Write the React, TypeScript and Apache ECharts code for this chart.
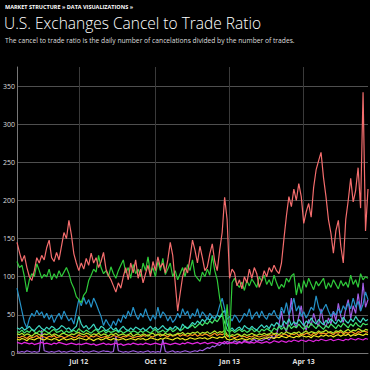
import React, { useEffect, useRef } from "react";
import * as echarts from "echarts";

const breadcrumb = "MARKET STRUCTURE » DATA VISUALIZATIONS »";
const titleText = "U.S. Exchanges Cancel to Trade Ratio";
const subtitleText = "The cancel to trade ratio is the daily number of cancelations divided by the number of trades.";
const monthNames = ["Jan", "Feb", "Mar", "Apr", "May", "Jun", "Jul", "Aug", "Sep", "Oct", "Nov", "Dec"];

const startDate = Date.UTC(2012, 3, 18);
const stepDays = 3;
const pointCount = 143;
const categories: string[] = Array.from({ length: pointCount }, (_, i) =>
  new Date(startDate + i * stepDays * 86400000).toISOString().slice(0, 10)
);

const redValues = [
  145, 132, 120, 128, 112, 100, 95, 108, 125, 118, 128, 122, 138, 148, 125, 120, 132, 122, 140, 158, 150, 174, 155, 130, 118,
  108, 118, 110, 124, 115, 131, 118, 125, 112, 120, 132, 110, 102, 96, 88, 80, 92, 85, 100, 112, 96, 118, 105, 122, 98,
  110, 92, 104, 115, 100, 120, 108, 126, 112, 118, 105, 122, 145, 128, 92, 55, 78, 100, 112, 105, 125, 148, 135, 118, 140,
  125, 108, 113, 130, 143, 120, 108, 135, 158, 204, 175, 98, 110, 105, 88, 96, 84, 100, 92, 110, 98, 112, 104, 86, 95,
  108, 100, 112, 106, 115, 108, 104, 118, 150, 180, 205, 192, 215, 200, 222, 205, 170, 185, 196, 178, 217, 240, 252, 263, 230,
  205, 175, 157, 131, 160, 174, 140, 118, 175, 200, 229, 198, 213, 243, 190, 342, 160, 215,
];

const greenValues = [
  120, 112, 115, 100, 80, 96, 104, 100, 117, 108, 98, 103, 100, 110, 96, 104, 98, 108, 100, 106, 112, 104, 92, 85, 74,
  70, 66, 76, 80, 95, 102, 110, 106, 128, 112, 104, 108, 100, 113, 104, 98, 108, 115, 122, 105, 112, 98, 116, 104, 110,
  100, 118, 108, 126, 104, 112, 100, 120, 108, 124, 103, 110, 118, 100, 108, 96, 104, 112, 100, 116, 108, 122, 102, 98, 94,
  106, 100, 110, 102, 128, 108, 96, 72, 56, 22, 64, 20, 92, 98, 90, 86, 93, 82, 95, 88, 97, 92, 86, 100, 94,
  102, 90, 96, 88, 102, 92, 84, 90, 86, 98, 93, 101, 104, 76, 92, 78, 95, 86, 98, 90, 83, 94, 88, 93, 98,
  84, 92, 86, 96, 90, 84, 95, 88, 93, 86, 102, 90, 96, 86, 104, 96, 100, 98,
];

const blueValues = [
  85, 70, 55, 40, 33, 45, 52, 48, 56, 50, 54, 46, 52, 44, 50, 40, 47, 52, 44, 55, 48, 42, 46, 38, 55,
  70, 62, 73, 64, 70, 60, 72, 65, 56, 48, 36, 44, 38, 34, 42, 36, 45, 40, 50, 45, 55, 48, 60, 50, 44,
  52, 47, 58, 48, 42, 50, 44, 60, 46, 54, 50, 42, 48, 40, 44, 52, 46, 58, 50, 55, 45, 52, 48, 58, 46,
  54, 50, 44, 52, 48, 45, 50, 62, 72, 58, 44, 48, 42, 50, 46, 40, 45, 52, 48, 58, 44, 50, 54, 46, 55,
  48, 44, 52, 50, 56, 48, 44, 60, 52, 66, 50, 58, 72, 55, 62, 48, 54, 46, 52, 60, 56, 75, 60, 52, 58,
  64, 55, 48, 54, 50, 58, 52, 62, 56, 66, 58, 72, 60, 68, 55, 64, 80, 70,
];

const cyanValues = [
  33, 31, 34, 30, 32, 35, 31, 29, 33, 36, 32, 30, 34, 31, 35, 33, 30, 32, 36, 34, 31, 33, 29, 32, 35,
  48, 38, 33, 36, 31, 34, 38, 32, 30, 35, 33, 29, 31, 34, 30, 33, 28, 32, 35, 31, 29, 33, 30, 34, 32,
  30, 33, 29, 32, 35, 31, 34, 30, 33, 36, 32, 30, 34, 31, 35, 33, 30, 38, 34, 32, 36, 40, 37, 42, 39,
  44, 41, 46, 43, 48, 45, 50, 47, 52, 56, 38, 30, 33, 29, 32, 34, 30, 36, 33, 31, 35, 32, 30, 34, 37,
  33, 36, 32, 38, 35, 40, 37, 34, 42, 38, 45, 36, 41, 38, 44, 40, 36, 42, 39, 46, 41, 38, 44, 40, 37,
  43, 39, 45, 41, 38, 44, 40, 47, 42, 39, 45, 41, 48, 43, 40, 46, 42, 44,
];

const lightGreenValues = [
  28, 27, 30, 26, 29, 27, 31, 28, 26, 29, 27, 30, 28, 26, 29, 31, 27, 28, 30, 26, 29, 27, 28, 30, 27,
  32, 29, 27, 30, 28, 26, 29, 31, 27, 28, 30, 26, 29, 27, 28, 30, 27, 29, 26, 28, 30, 27, 29, 28, 26,
  29, 27, 30, 28, 26, 29, 31, 27, 28, 30, 27, 29, 32, 28, 30, 33, 29, 31, 35, 32, 34, 37, 33, 36, 39,
  36, 40, 38, 42, 39, 44, 41, 46, 50, 40, 30, 28, 30, 27, 29, 31, 28, 30, 27, 29, 32, 28, 30, 27, 31,
  29, 32, 30, 28, 33, 30, 35, 31, 34, 30, 37, 32, 35, 33, 38, 34, 31, 36, 33, 39, 35, 32, 37, 34, 31,
  36, 33, 38, 35, 32, 37, 34, 39, 36, 33, 38, 35, 40, 36, 34, 39, 37, 38,
];

const limeValues = [
  25, 24, 26, 23, 25, 24, 22, 25, 26, 24, 23, 25, 24, 26, 23, 25, 24, 22, 25, 26, 24, 23, 25, 24, 26,
  27, 25, 24, 26, 25, 23, 25, 24, 26, 23, 25, 24, 22, 25, 24, 26, 23, 24, 25, 23, 24, 26, 22, 24, 25,
  23, 25, 24, 22, 25, 26, 23, 24, 25, 23, 26, 24, 25, 23, 24, 26, 25, 27, 24, 26, 25, 27, 26, 28, 25,
  27, 26, 28, 25, 27, 29, 26, 28, 27, 30, 24, 22, 24, 23, 25, 24, 22, 25, 23, 24, 26, 24, 23, 25, 24,
  26, 24, 25, 27, 25, 26, 24, 27, 25, 28, 26, 25, 27, 26, 28, 25, 27, 29, 26, 28, 27, 26, 29, 27, 28,
  30, 27, 28, 26, 29, 28, 30, 27, 29, 31, 28, 30, 29, 32, 30, 28, 31, 30,
];

const orangeValues = [
  21, 20, 22, 21, 19, 22, 20, 21, 23, 20, 22, 21, 20, 22, 21, 23, 20, 21, 22, 20, 21, 23, 22, 20, 21,
  24, 22, 21, 23, 20, 22, 21, 23, 22, 20, 21, 22, 20, 21, 23, 22, 21, 20, 22, 21, 23, 22, 20, 21, 22,
  21, 23, 22, 24, 22, 21, 23, 25, 22, 24, 23, 21, 24, 22, 23, 25, 22, 24, 23, 22, 24, 23, 25, 22, 24,
  23, 25, 24, 22, 24, 26, 23, 25, 24, 26, 22, 21, 22, 20, 21, 23, 21, 22, 20, 22, 21, 23, 22, 21, 22,
  23, 22, 24, 23, 25, 22, 24, 23, 25, 24, 22, 25, 24, 26, 23, 25, 24, 26, 25, 23, 26, 24, 27, 25, 26,
  25, 27, 26, 24, 27, 26, 28, 25, 27, 26, 28, 27, 25, 28, 27, 29, 28, 27,
];

const yellowValues = [
  18, 17, 19, 18, 16, 19, 18, 17, 19, 20, 18, 17, 19, 18, 17, 19, 18, 16, 18, 19, 17, 18, 19, 17, 18,
  20, 19, 18, 17, 19, 18, 16, 18, 19, 17, 18, 20, 18, 17, 19, 18, 17, 18, 19, 17, 18, 19, 18, 17, 19,
  18, 19, 17, 18, 20, 19, 18, 17, 19, 18, 20, 19, 18, 17, 19, 20, 18, 19, 17, 18, 20, 19, 18, 19, 20,
  19, 20, 18, 19, 21, 20, 19, 21, 20, 22, 18, 17, 18, 19, 17, 18, 19, 18, 17, 19, 18, 20, 19, 18, 19,
  20, 19, 21, 20, 19, 21, 20, 22, 21, 20, 22, 21, 20, 22, 21, 23, 22, 21, 22, 20, 23, 22, 21, 23, 22,
  24, 22, 23, 21, 23, 24, 22, 24, 23, 25, 22, 24, 23, 25, 24, 23, 25, 24,
];

const magentaValues = [
  14, 13, 12, 14, 13, 12, 13, 11, 12, 13, 14, 12, 13, 12, 11, 13, 12, 14, 13, 12, 11, 12, 13, 12, 11,
  12, 11, 12, 13, 12, 11, 12, 10, 11, 12, 13, 11, 12, 11, 12, 13, 11, 12, 10, 11, 12, 11, 13, 12, 11,
  12, 11, 13, 12, 11, 12, 13, 12, 11, 12, 13, 12, 11, 12, 13, 12, 11, 13, 12, 14, 13, 12, 13, 14, 12,
  13, 14, 12, 13, 14, 13, 12, 14, 13, 15, 12, 13, 14, 13, 12, 14, 13, 15, 14, 13, 14, 13, 15, 14, 13,
  14, 15, 13, 14, 16, 15, 14, 16, 15, 14, 16, 15, 17, 16, 15, 17, 16, 15, 17, 16, 15, 17, 16, 18, 17,
  16, 17, 18, 16, 17, 18, 17, 16, 18, 17, 19, 18, 17, 19, 18, 17, 19, 18,
];

const violetValues = [
  2, 1, 2, 1, 3, 2, 1, 2, 1, 2, 30, 3, 2, 1, 2, 1, 2, 3, 1, 2, 1, 2, 3, 2, 1,
  2, 3, 1, 2, 1, 2, 3, 2, 1, 2, 3, 2, 2, 1, 2, 22, 3, 2, 1, 2, 1, 2, 3, 2, 1,
  2, 1, 2, 3, 1, 2, 1, 2, 1, 18, 2, 1, 2, 3, 1, 2, 1, 2, 3, 2, 1, 2, 3, 2, 4,
  3, 5, 7, 6, 9, 8, 11, 10, 13, 12, 15, 14, 13, 16, 14, 15, 13, 17, 15, 14, 16, 18, 15, 17, 16,
  18, 20, 17, 22, 19, 24, 38, 55, 34, 28, 45, 72, 40, 33, 48, 62, 38, 30, 44, 36, 52, 41, 35, 58, 40,
  34, 46, 38, 55, 42, 65, 48, 40, 58, 70, 45, 62, 52, 78, 55, 92, 60, 70,
];

const seriesDefs = [
  { name: "Violet", color: "#a35ee6", data: violetValues },
  { name: "Magenta", color: "#e326e0", data: magentaValues },
  { name: "Yellow", color: "#f2ee22", data: yellowValues },
  { name: "Orange", color: "#ff9420", data: orangeValues },
  { name: "Lime", color: "#aee82c", data: limeValues },
  { name: "Light green", color: "#44e468", data: lightGreenValues },
  { name: "Cyan", color: "#3cd8c2", data: cyanValues },
  { name: "Blue", color: "#2592c8", data: blueValues },
  { name: "Green", color: "#2fcb3a", data: greenValues },
  { name: "Red", color: "#f46d6d", data: redValues },
];

const isQuarterStart = (i: number) => {
  if (i <= 0) return false;
  const m = +categories[i].slice(5, 7);
  const pm = +categories[i - 1].slice(5, 7);
  return m !== pm && (m - 1) % 3 === 0;
};

export default function App() {
  const ref = useRef<HTMLDivElement>(null);
  useEffect(() => {
    if (!ref.current) return;
    const chart = echarts.init(ref.current, null, { renderer: "svg" });
    chart.setOption({
      animation: false,
      backgroundColor: "#000",
      textStyle: { fontFamily: "Open Sans" },
      graphic: [
        {
          type: "text",
          left: 5,
          top: 3,
          style: { text: breadcrumb, fill: "#fff", fontSize: 5.5, fontWeight: "bold", fontFamily: "Open Sans", lineHeight: 7 },
        },
        {
          type: "text",
          left: 4,
          top: 13,
          style: { text: titleText, fill: "#fff", fontSize: 15.5, fontWeight: 300, fontFamily: "Open Sans", lineHeight: 19 },
        },
        {
          type: "text",
          left: 5,
          top: 36,
          style: { text: subtitleText, fill: "#ddd", fontSize: 6.7, fontFamily: "Open Sans", lineHeight: 9 },
        },
      ],
      grid: { left: 13, right: 2, top: 67, bottom: 17, containLabel: false },
      xAxis: {
        type: "category",
        data: categories,
        boundaryGap: false,
        axisLine: { show: true, lineStyle: { color: "#777", width: 1 } },
        axisTick: { show: false },
        axisLabel: {
          interval: (i: number) => isQuarterStart(i),
          formatter: (v: string) => monthNames[+v.slice(5, 7) - 1] + " " + v.slice(2, 4),
          color: "#ddd",
          fontSize: 7,
          fontWeight: "bold",
          margin: 5,
        },
        splitLine: {
          show: true,
          interval: (i: number) => isQuarterStart(i),
          lineStyle: { color: "#3a3a3a", width: 1 },
        },
      },
      yAxis: {
        type: "value",
        min: 0,
        max: 375,
        interval: 50,
        axisLine: { show: true, lineStyle: { color: "#777", width: 1 } },
        axisTick: { show: false },
        axisLabel: { color: "#ddd", fontSize: 7, margin: 2, showMaxLabel: false },
        splitLine: { show: true, showMaxLine: false, lineStyle: { color: "#4f4f4f", width: 1 } },
      },
      series: seriesDefs.map((s) => ({
        name: s.name,
        type: "line",
        data: s.data,
        showSymbol: false,
        symbol: "none",
        lineStyle: { color: s.color, width: 1.2 },
        itemStyle: { color: s.color },
      })),
    });
    return () => chart.dispose();
  }, []);
  return (
    <div
      ref={ref}
      style={{ position: "fixed", left: 0, top: 0, width: 370, height: 370, background: "#000" }}
    />
  );
}
